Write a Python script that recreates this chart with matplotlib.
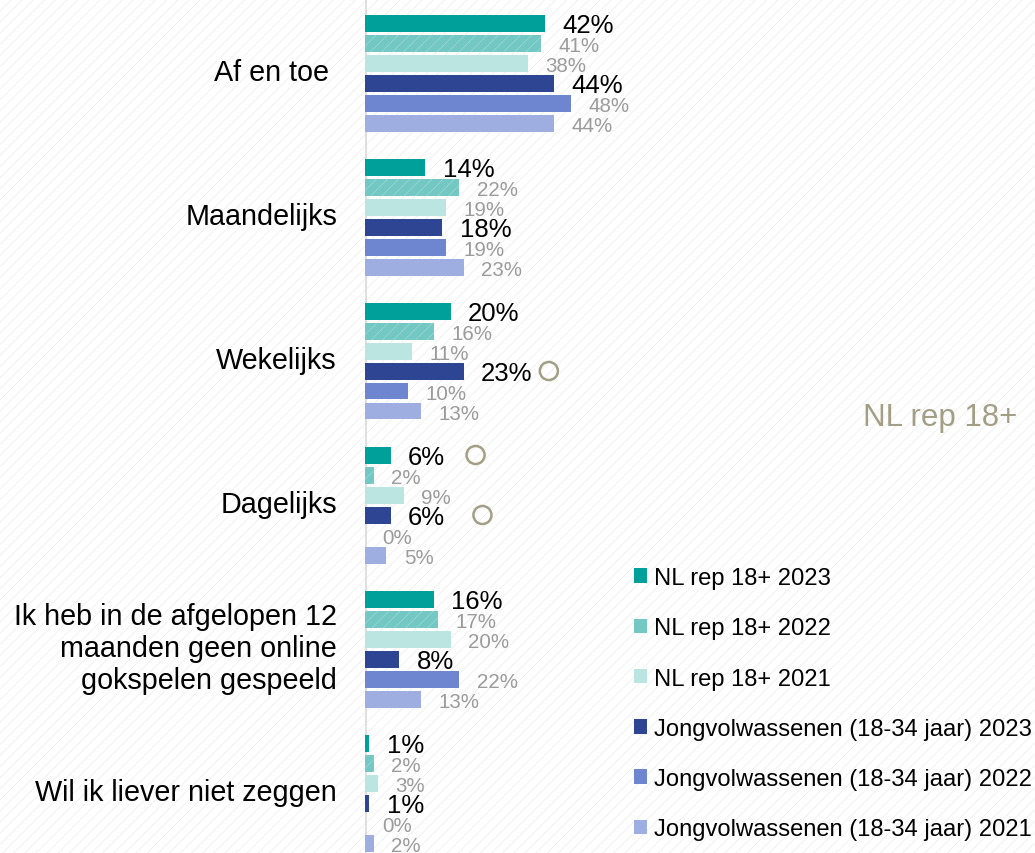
import matplotlib
matplotlib.use("Agg")
import matplotlib.pyplot as plt
from matplotlib.patches import Patch, Rectangle

plt.rcParams['font.family'] = ['Liberation Sans', 'DejaVu Sans']
plt.rcParams['hatch.linewidth'] = 0.6

categories = ["Af en toe ", "Maandelijks", "Wekelijks", "Dagelijks",
              "Ik heb in de afgelopen 12\nmaanden geen online\ngokspelen gespeeld",
              "Wil ik liever niet zeggen"]
series_names = ["NL rep 18+ 2023", "NL rep 18+ 2022", "NL rep 18+ 2021",
                "Jongvolwassenen (18-34 jaar) 2023", "Jongvolwassenen (18-34 jaar) 2022",
                "Jongvolwassenen (18-34 jaar) 2021"]
nl_2023 = [42, 14, 20, 6, 16, 1]
nl_2022 = [41, 22, 16, 2, 17, 2]
nl_2021 = [38, 19, 11, 9, 20, 3]
jv_2023 = [44, 18, 23, 6, 8, 1]
jv_2022 = [48, 19, 10, 0, 22, 0]
jv_2021 = [44, 23, 13, 5, 13, 2]
series_values = [nl_2023, nl_2022, nl_2021, jv_2023, jv_2022, jv_2021]
colors = ["#00A09A", "#74C8C4", "#BAE5E0", "#2E4593", "#6E86D0", "#9EAEE0"]
# significance markers: (category index, series index, x position in % units)
sig_cat = [2, 3, 3]
sig_ser = [3, 0, 3]
sig_x = [42.9, 25.8, 27.4]

W, H = 1035, 854
fig = plt.figure(figsize=(W / 100, H / 100), dpi=100)
bg = Rectangle((0, 0), 1, 1, transform=fig.transFigure, facecolor='white',
               edgecolor='#efefef', hatch='///', linewidth=0, zorder=-10)
fig.patches.append(bg)

ax = fig.add_axes([365 / W, 0, 670 / W, 1])
ax.patch.set_visible(False)
pxu = 4.286
ax.set_xlim(0, 670 / pxu)
ax.set_ylim((H - 24) / 20, -24 / 20)
for s in ax.spines.values():
    s.set_visible(False)
ax.set_xticks([])
ax.set_yticks([])
ax.axvline(0.15, color='#d9d9d9', lw=1.2, zorder=1)

pitch = 7.2
off = 17.5 / pxu
for j, (vals, col) in enumerate(zip(series_values, colors)):
    ys = [pitch * i + j for i in range(len(categories))]
    kw = {}
    if j == 1:
        kw = dict(hatch='///', edgecolor='#93D6D2', linewidth=0)
    ax.barh(ys, vals, height=0.85, color=col, zorder=2, **kw)
    for y, v in zip(ys, vals):
        if j in (0, 3):
            ax.text(v + off, y + 0.12, f"{v}%", ha='left', va='center',
                    fontsize=18.5, color='black')
        else:
            ax.text(v + off, y + 0.12, f"{v}%", ha='left', va='center',
                    fontsize=14.8, color='#9b9b9b')

for i, cat in enumerate(categories):
    ax.text(-(365 - 337) / pxu, pitch * i + 2.5 - 0.05, cat, ha='right', va='center',
            fontsize=20.7, linespacing=1.17, color='black', clip_on=False)

ax.scatter(sig_x, [pitch * c + s for c, s in zip(sig_cat, sig_ser)], s=13 ** 2,
           facecolors='none', edgecolors='#A39E86', linewidths=1.8, zorder=3)

fig.text(940 / W, 1 - 418 / H, "NL rep 18+", ha='center', va='center',
         fontsize=22.5, color='#A39E86')

handles = [Patch(facecolor=c, edgecolor='none') for c in colors]
leg = ax.legend(handles, series_names, loc='upper left',
                bbox_to_anchor=(634 / W, 1 - 568 / H), bbox_transform=fig.transFigure,
                frameon=False, borderpad=0, borderaxespad=0, handlelength=0.55,
                handleheight=0.55, handletextpad=0.3, labelspacing=1.19,
                fontsize=17.1)

fig.savefig("out.png", dpi=100)
